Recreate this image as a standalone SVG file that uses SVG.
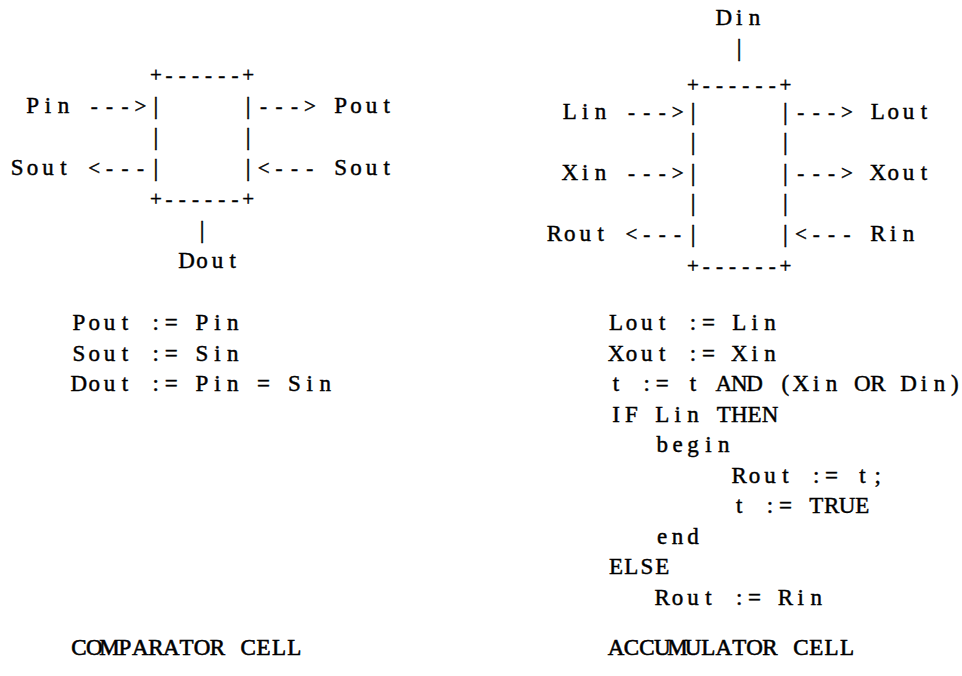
<svg xmlns="http://www.w3.org/2000/svg" width="962" height="676" viewBox="0 0 962 676">
<style>
text{font-family:"Liberation Serif","Times New Roman",serif;font-size:23px;fill:#000;stroke:#000;stroke-width:0.45px;text-anchor:middle}
.sym{font-size:21px}
.bar{font-size:26px}
.title{stroke-width:0.6px}
</style>
<rect width="962" height="676" fill="#fff"/>
<g id="comparator-cell">
<text class="sym" x="155.8 169 182.2 195.4 208.6 221.8 235 248.2" y="82">+------+</text>
<text class="bar" x="155.8" y="114">|</text><text class="bar" x="248.2" y="114">|</text>
<text class="bar" x="155.8" y="145">|</text><text class="bar" x="248.2" y="145">|</text>
<text class="bar" x="155.8" y="176">|</text><text class="bar" x="248.2" y="176">|</text>
<text class="sym" x="155.8 169 182.2 195.4 208.6 221.8 235 248.2" y="206">+------+</text>
<text x="32.6 48 63.4" y="113">Pin</text>
<text x="340.6 356 371.4 386.8" y="113">Pout</text>
<text x="17.2 32.6 48 63.4" y="175">Sout</text>
<text x="340.6 356 371.4 386.8" y="175">Sout</text>
<text x="186.6 202 217.4 232.8" y="268">Dout</text>
<text x="78.8 94.2 109.6 125 140.4 155.8 171.2 186.6 202 217.4 232.8" y="330">Pout := Pin</text>
<text x="78.8 94.2 109.6 125 140.4 155.8 171.2 186.6 202 217.4 232.8" y="360.5">Sout := Sin</text>
<text x="78.8 94.2 109.6 125 140.4 155.8 171.2 186.6 202 217.4 232.8 248.2 263.6 279 294.4 309.8 325.2" y="391">Dout := Pin = Sin</text>
<text class="title" x="78.8 94.2 109.6 125 140.4 155.8 171.2 186.6 202 217.4 232.8 248.2 263.6 279 294.4" y="655">COMPARATOR CELL</text>
</g>
<g id="accumulator-cell">
<text class="sym" x="693 706.2 719.4 732.6 745.8 759 772.2 785.4" y="92">+------+</text>
<text class="bar" x="693" y="119.5">|</text><text class="bar" x="785.4" y="119.5">|</text>
<text class="bar" x="693" y="150">|</text><text class="bar" x="785.4" y="150">|</text>
<text class="bar" x="693" y="180.5">|</text><text class="bar" x="785.4" y="180.5">|</text>
<text class="bar" x="693" y="211">|</text><text class="bar" x="785.4" y="211">|</text>
<text class="bar" x="693" y="241.5">|</text><text class="bar" x="785.4" y="241.5">|</text>
<text class="sym" x="693 706.2 719.4 732.6 745.8 759 772.2 785.4" y="273">+------+</text>
<text x="723.8 739.2 754.6" y="25">Din</text>
<text x="569.8 585.2 600.6" y="118.5">Lin</text>
<text x="877.8 893.2 908.6 924" y="118.5">Lout</text>
<text x="569.8 585.2 600.6" y="179.5">Xin</text>
<text x="877.8 893.2 908.6 924" y="179.5">Xout</text>
<text x="554.4 569.8 585.2 600.6" y="240.5">Rout</text>
<text x="877.8 893.2 908.6" y="240.5">Rin</text>
<text x="616 631.4 646.8 662.2 677.6 693 708.4 723.8 739.2 754.6 770" y="330">Lout := Lin</text>
<text x="616 631.4 646.8 662.2 677.6 693 708.4 723.8 739.2 754.6 770" y="360.5">Xout := Xin</text>
<text x="616 631.4 646.8 662.2 677.6 693 708.4 723.8 739.2 754.6 770 785.4 800.8 816.2 831.6 847 862.4 877.8 893.2 908.6 924 939.4 954.8" y="391">t := t AND (Xin OR Din)</text>
<text x="616 631.4 646.8 662.2 677.6 693 708.4 723.8 739.2 754.6 770" y="421.5">IF Lin THEN</text>
<text x="662.2 677.6 693 708.4 723.8" y="452">begin</text>
<text x="739.2 754.6 770 785.4 800.8 816.2 831.6 847 862.4 877.8" y="482.5">Rout := t;</text>
<text x="739.2 754.6 770 785.4 800.8 816.2 831.6 847 862.4" y="513">t := TRUE</text>
<text x="662.2 677.6 693" y="543.5">end</text>
<text x="616 631.4 646.8 662.2" y="574">ELSE</text>
<text x="662.2 677.6 693 708.4 723.8 739.2 754.6 770 785.4 800.8 816.2" y="604.5">Rout := Rin</text>
<text class="title" x="616 631.4 646.8 662.2 677.6 693 708.4 723.8 739.2 754.6 770 785.4 800.8 816.2 831.6 847" y="655">ACCUMULATOR CELL</text>
</g>
<g id="connectors">
<text class="sym" x="94.2 109.6 125 140.4" y="113">---&gt;</text>
<text class="sym" x="263.6 279 294.4 309.8" y="113">---&gt;</text>
<text class="sym" x="94.2 109.6 125 140.4" y="175">&lt;---</text>
<text class="sym" x="263.6 279 294.4 309.8" y="175">&lt;---</text>
<text class="bar" x="202" y="238">|</text>
<text class="bar" x="739.2" y="56">|</text>
<text class="sym" x="631.4 646.8 662.2 677.6" y="118.5">---&gt;</text>
<text class="sym" x="800.8 816.2 831.6 847" y="118.5">---&gt;</text>
<text class="sym" x="631.4 646.8 662.2 677.6" y="179.5">---&gt;</text>
<text class="sym" x="800.8 816.2 831.6 847" y="179.5">---&gt;</text>
<text class="sym" x="631.4 646.8 662.2 677.6" y="240.5">&lt;---</text>
<text class="sym" x="800.8 816.2 831.6 847" y="240.5">&lt;---</text>
</g>
</svg>
